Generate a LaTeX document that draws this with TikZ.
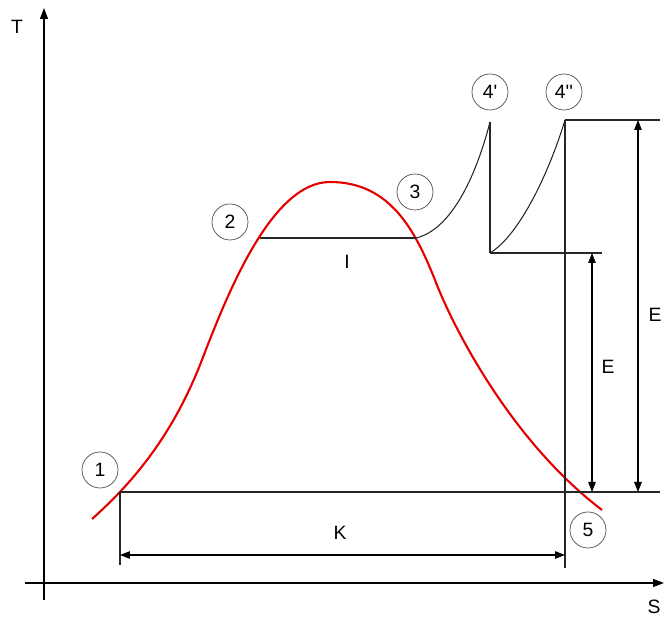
\documentclass[tikz,border=0pt]{standalone}
\usepackage{fontspec}
\setmainfont{Liberation Sans}
\usepackage{tikz}
\usetikzlibrary{arrows.meta, positioning, calc}

\begin{document}
\begin{tikzpicture}[
    x=0.02cm, y=-0.02cm,
    state/.style={circle, draw=black!70, minimum size=0.72cm, inner sep=0pt, font=\fontsize{11}{12}\selectfont},
    lbl/.style={font=\fontsize{11}{12}\selectfont, inner sep=0pt},
    line/.style={draw=black!85, line width=0.6pt},
    dim/.style={line width=0.6pt, {Triangle[length=0.2cm,width=0.15cm]}-{Triangle[length=0.2cm,width=0.15cm]}},
    axis/.style={line width=0.7pt, -{Triangle[length=0.22cm,width=0.16cm]}},
    sat/.style={red!90!black, line width=1.2pt}
]
    \useasboundingbox (0,0) rectangle (664,617);

    % axes
    \coordinate (t0) at (44,600);
    \coordinate (t1) at (44,8);
    \coordinate (s0) at (25,583);
    \coordinate (s1) at (664,583);
    \draw[axis] (t0) -- (t1);
    \draw[axis] (s0) -- (s1);
    \node[lbl] (T) at (17,27) {T};
    \node[lbl] (S) at (654,607) {S};

    % saturation curve
    \draw[sat] (92,519) .. controls (130,485) and (170,440) .. (200,365)
        .. controls (225,300) and (270,182) .. (330,182)
        .. controls (390,182) and (415,230) .. (435,280)
        .. controls (452,325) and (510,440) .. (602,510);

    % cycle points
    \coordinate (p1) at (120,492);
    \coordinate (p2) at (260,238);
    \coordinate (p3) at (416,238);
    \coordinate (p4a) at (490,122);
    \coordinate (p4m) at (490,253);
    \coordinate (p4b) at (565,120);
    \coordinate (p5) at (565,492);

    \draw[line] (p2) -- (p3);
    \draw[line] (p3) .. controls (450,230) and (475,180) .. (p4a);
    \draw[line] (p4a) -- (p4m);
    \draw[line] (p4m) .. controls (520,235) and (550,170) .. (p4b);
    \draw[line] (p4m) -- (602,253);
    \draw[line] (p4b) -- (660,120);
    \draw[line] (p4b) -- (565,568);
    \draw[line] (p1) -- (660,492);
    \draw[line] (p1) -- (120,565);

    % dimensions
    \draw[dim] (120,555) -- (565,555);
    \draw[dim] (592,253) -- (592,492);
    \draw[dim] (638,120) -- (638,492);

    \node[lbl] (I) at (347,262) {I};
    \node[lbl] (K) at (340,533) {K};
    \node[lbl] (E1) at (608,367) {E};
    \node[lbl] (E2) at (655,315) {E};

    \node[state] (c1) at (100,470) {1};
    \node[state] (c2) at (230,222) {2};
    \node[state] (c3) at (415,192) {3};
    \node[state] (c4a) at (490,92) {4\textquotesingle};
    \node[state] (c4b) at (564,92) {4\textquotesingle\textquotesingle};
    \node[state] (c5) at (588,530) {5};
\end{tikzpicture}
\end{document}
